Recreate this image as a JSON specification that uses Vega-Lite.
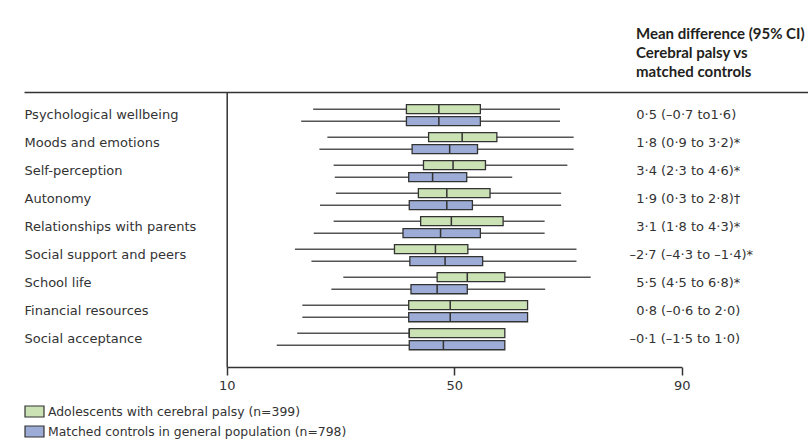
{
  "$schema": "https://vega.github.io/schema/vega-lite/v6.json",
  "width": 784,
  "height": 275,
  "autosize": {"type": "none"},
  "padding": {"left": 24, "top": 92, "right": 0, "bottom": 80},
  "background": "white",
  "config": {
    "view": {"stroke": null},
    "font": "DejaVu Sans",
    "axis": {"labelFont": "DejaVu Sans", "labelFontSize": 13, "labelColor": "#333333", "grid": false}
  },
  "title": {
    "text": ["Mean difference (95% CI)", "Cerebral palsy vs", "matched controls"],
    "anchor": "start",
    "frame": "group",
    "dx": 612,
    "offset": 12,
    "font": "Lato",
    "fontSize": 15,
    "fontWeight": "bold",
    "color": "#231f20",
    "lineHeight": 19
  },
  "datasets": {
    "boxes": [
      {"category": "Psychological wellbeing", "group": "Adolescents with cerebral palsy (n=399)", "lo": 25.2, "q1": 41.6, "med": 47.3, "q3": 54.6, "hi": 68.6},
      {"category": "Psychological wellbeing", "group": "Matched controls in general population (n=798)", "lo": 23.1, "q1": 41.6, "med": 47.3, "q3": 54.6, "hi": 68.6},
      {"category": "Moods and emotions", "group": "Adolescents with cerebral palsy (n=399)", "lo": 27.7, "q1": 45.5, "med": 51.4, "q3": 57.5, "hi": 71.0},
      {"category": "Moods and emotions", "group": "Matched controls in general population (n=798)", "lo": 26.3, "q1": 42.6, "med": 49.2, "q3": 54.1, "hi": 71.0},
      {"category": "Self-perception", "group": "Adolescents with cerebral palsy (n=399)", "lo": 28.8, "q1": 44.6, "med": 49.8, "q3": 55.5, "hi": 69.9},
      {"category": "Self-perception", "group": "Matched controls in general population (n=798)", "lo": 29.0, "q1": 42.0, "med": 46.2, "q3": 52.2, "hi": 60.2},
      {"category": "Autonomy", "group": "Adolescents with cerebral palsy (n=399)", "lo": 29.2, "q1": 43.7, "med": 48.7, "q3": 56.3, "hi": 68.8},
      {"category": "Autonomy", "group": "Matched controls in general population (n=798)", "lo": 26.4, "q1": 42.1, "med": 48.7, "q3": 53.2, "hi": 68.8},
      {"category": "Relationships with parents", "group": "Adolescents with cerebral palsy (n=399)", "lo": 28.8, "q1": 44.1, "med": 49.5, "q3": 58.6, "hi": 65.9},
      {"category": "Relationships with parents", "group": "Matched controls in general population (n=798)", "lo": 25.3, "q1": 41.0, "med": 47.6, "q3": 54.6, "hi": 65.9},
      {"category": "Social support and peers", "group": "Adolescents with cerebral palsy (n=399)", "lo": 22.0, "q1": 39.5, "med": 46.7, "q3": 52.4, "hi": 71.5},
      {"category": "Social support and peers", "group": "Matched controls in general population (n=798)", "lo": 24.9, "q1": 42.2, "med": 48.4, "q3": 55.0, "hi": 71.5},
      {"category": "School life", "group": "Adolescents with cerebral palsy (n=399)", "lo": 30.5, "q1": 47.0, "med": 52.3, "q3": 58.9, "hi": 74.0},
      {"category": "School life", "group": "Matched controls in general population (n=798)", "lo": 28.4, "q1": 42.4, "med": 47.0, "q3": 52.3, "hi": 66.0},
      {"category": "Financial resources", "group": "Adolescents with cerebral palsy (n=399)", "lo": 23.3, "q1": 42.0, "med": 49.3, "q3": 62.9, "hi": 62.9},
      {"category": "Financial resources", "group": "Matched controls in general population (n=798)", "lo": 23.3, "q1": 42.0, "med": 49.3, "q3": 62.9, "hi": 62.9},
      {"category": "Social acceptance", "group": "Adolescents with cerebral palsy (n=399)", "lo": 22.4, "q1": 42.1, "med": 42.1, "q3": 58.9, "hi": 58.9},
      {"category": "Social acceptance", "group": "Matched controls in general population (n=798)", "lo": 18.8, "q1": 42.1, "med": 48.1, "q3": 58.9, "hi": 58.9}
    ],
    "diffs": [
      {"category": "Psychological wellbeing", "label": "0·5 (–0·7 to1·6)", "sign": "pos"},
      {"category": "Moods and emotions", "label": "1·8 (0·9 to 3·2)*", "sign": "pos"},
      {"category": "Self-perception", "label": "3·4 (2·3 to 4·6)*", "sign": "pos"},
      {"category": "Autonomy", "label": "1·9 (0·3 to 2·8)†", "sign": "pos"},
      {"category": "Relationships with parents", "label": "3·1 (1·8 to 4·3)*", "sign": "pos"},
      {"category": "Social support and peers", "label": "–2·7 (–4·3 to –1·4)*", "sign": "neg"},
      {"category": "School life", "label": "5·5 (4·5 to 6·8)*", "sign": "pos"},
      {"category": "Financial resources", "label": "0·8 (–0·6 to 2·0)", "sign": "pos"},
      {"category": "Social acceptance", "label": "–0·1 (–1·5 to 1·0)", "sign": "neg"}
    ]
  },
  "encoding": {
    "y": {
      "field": "category",
      "type": "nominal",
      "sort": null,
      "scale": {"paddingInner": 0, "paddingOuter": 0.41, "align": 0.4},
      "axis": {
        "title": null,
        "orient": "left",
        "offset": -202.7,
        "ticks": false,
        "domain": true,
        "domainColor": "#333333",
        "domainWidth": 1.5,
        "labelAlign": "left",
        "labelPadding": 202.7,
        "labelBaseline": "middle"
      }
    }
  },
  "layer": [
    {
      "data": {"name": "boxes"},
      "encoding": {
        "yOffset": {
          "field": "group",
          "type": "nominal",
          "scale": {
            "domain": ["Adolescents with cerebral palsy (n=399)", "Matched controls in general population (n=798)"],
            "paddingInner": 0.25,
            "paddingOuter": 0.29
          }
        }
      },
      "layer": [
        {
          "mark": {"type": "rule", "color": "#555555", "strokeWidth": 1.5},
          "encoding": {
            "x": {
              "field": "lo",
              "type": "quantitative",
              "scale": {"domain": [10, 90], "range": [202.7, 657.7], "nice": false, "zero": false},
              "axis": {
                "title": null,
                "values": [10, 50, 90],
                "tickSize": 8,
                "tickColor": "#333333",
                "tickWidth": 1.5,
                "domainColor": "#333333",
                "domainWidth": 1.5,
                "labelPadding": 4,
                "labelFlush": false
              }
            },
            "x2": {"field": "hi"}
          }
        },
        {
          "mark": {"type": "bar", "stroke": "#333333", "strokeWidth": 1.3},
          "encoding": {
            "x": {"field": "q1", "type": "quantitative"},
            "x2": {"field": "q3"},
            "color": {
              "field": "group",
              "type": "nominal",
              "scale": {
                "domain": ["Adolescents with cerebral palsy (n=399)", "Matched controls in general population (n=798)"],
                "range": ["#cbe2b4", "#9dacd7"]
              },
              "legend": {
                "title": null,
                "orient": "bottom",
                "direction": "vertical",
                "offset": 9,
                "symbolType": "M-1,-0.58H1V0.58H-1Z",
                "symbolSize": 361,
                "symbolStrokeColor": "#333333",
                "symbolStrokeWidth": 1.2,
                "labelFont": "DejaVu Sans",
                "labelFontSize": 12.4,
                "labelColor": "#333333",
                "labelLimit": 400,
                "labelOffset": 3,
                "rowPadding": 1
              }
            }
          }
        },
        {
          "mark": {"type": "bar", "stroke": "#333333", "strokeWidth": 1.5, "fill": null},
          "encoding": {
            "x": {"field": "med", "type": "quantitative"},
            "x2": {"field": "med"}
          }
        }
      ]
    },
    {
      "data": {"name": "diffs"},
      "layer": [
        {
          "transform": [{"filter": "datum.sign === 'pos'"}],
          "mark": {"type": "text", "align": "left", "baseline": "middle", "font": "DejaVu Sans", "fontSize": 13, "color": "#333333"},
          "encoding": {
            "x": {
              "datum": 82,
              "type": "quantitative",
              "scale": {"domain": [-25.64, 112.2], "nice": false, "zero": false},
              "axis": {"orient": "top", "title": null, "ticks": false, "labels": false, "domain": true, "domainColor": "#333333", "domainWidth": 1.5}
            },
            "text": {"field": "label"}
          }
        },
        {
          "transform": [{"filter": "datum.sign === 'neg'"}],
          "mark": {"type": "text", "align": "left", "baseline": "middle", "font": "DejaVu Sans", "fontSize": 13, "color": "#333333"},
          "encoding": {
            "x": {"datum": 80.8, "type": "quantitative"},
            "text": {"field": "label"}
          }
        }
      ]
    }
  ],
  "resolve": {"scale": {"x": "independent"}, "axis": {"x": "independent"}}
}
